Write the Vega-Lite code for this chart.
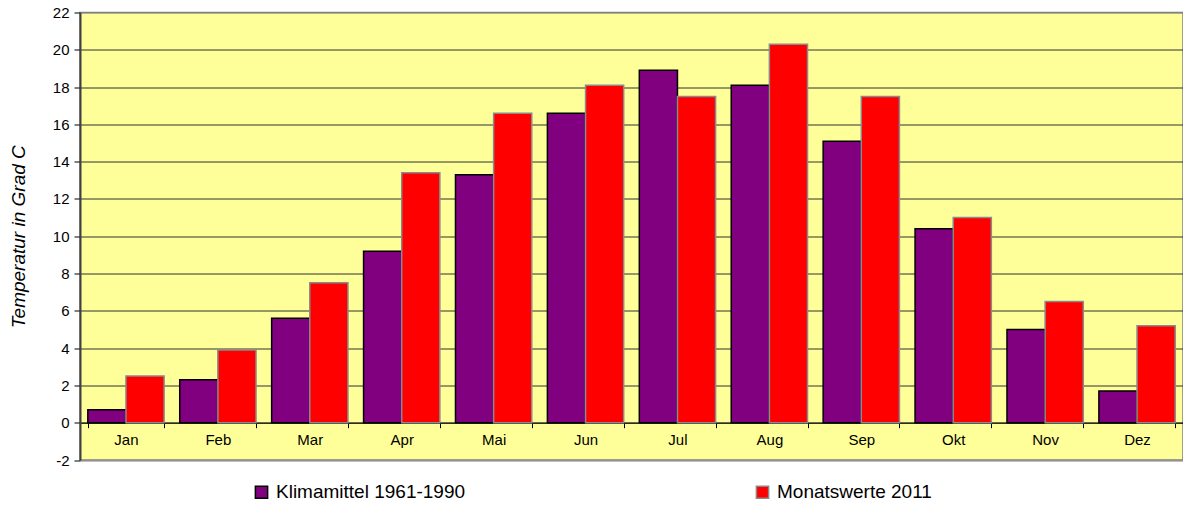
{
  "$schema": "https://vega.github.io/schema/vega-lite/v6.json",
  "autosize": "none",
  "width": 1103,
  "height": 447.5,
  "padding": {"left": 80, "top": 12.5, "right": 0, "bottom": 49},
  "background": "#ffffff",
  "config": {
    "font": "Liberation Sans",
    "view": {"fill": "#FFFF99", "stroke": "#808080", "strokeWidth": 1.5}
  },
  "data": {
    "values": [
      {"monat": "Jan", "serie": "Klimamittel 1961-1990", "temp": 0.7},
      {"monat": "Jan", "serie": "Monatswerte 2011", "temp": 2.5},
      {"monat": "Feb", "serie": "Klimamittel 1961-1990", "temp": 2.3},
      {"monat": "Feb", "serie": "Monatswerte 2011", "temp": 3.9},
      {"monat": "Mar", "serie": "Klimamittel 1961-1990", "temp": 5.6},
      {"monat": "Mar", "serie": "Monatswerte 2011", "temp": 7.5},
      {"monat": "Apr", "serie": "Klimamittel 1961-1990", "temp": 9.2},
      {"monat": "Apr", "serie": "Monatswerte 2011", "temp": 13.4},
      {"monat": "Mai", "serie": "Klimamittel 1961-1990", "temp": 13.3},
      {"monat": "Mai", "serie": "Monatswerte 2011", "temp": 16.6},
      {"monat": "Jun", "serie": "Klimamittel 1961-1990", "temp": 16.6},
      {"monat": "Jun", "serie": "Monatswerte 2011", "temp": 18.1},
      {"monat": "Jul", "serie": "Klimamittel 1961-1990", "temp": 18.9},
      {"monat": "Jul", "serie": "Monatswerte 2011", "temp": 17.5},
      {"monat": "Aug", "serie": "Klimamittel 1961-1990", "temp": 18.1},
      {"monat": "Aug", "serie": "Monatswerte 2011", "temp": 20.3},
      {"monat": "Sep", "serie": "Klimamittel 1961-1990", "temp": 15.1},
      {"monat": "Sep", "serie": "Monatswerte 2011", "temp": 17.5},
      {"monat": "Okt", "serie": "Klimamittel 1961-1990", "temp": 10.4},
      {"monat": "Okt", "serie": "Monatswerte 2011", "temp": 11.0},
      {"monat": "Nov", "serie": "Klimamittel 1961-1990", "temp": 5.0},
      {"monat": "Nov", "serie": "Monatswerte 2011", "temp": 6.5},
      {"monat": "Dez", "serie": "Klimamittel 1961-1990", "temp": 1.7},
      {"monat": "Dez", "serie": "Monatswerte 2011", "temp": 5.2}
    ]
  },
  "mark": {"type": "bar", "strokeWidth": 1.5},
  "encoding": {
    "x": {
      "field": "monat",
      "type": "nominal",
      "sort": null,
      "scale": {"paddingInner": 0.17, "paddingOuter": 0.085},
      "axis": {
        "title": null,
        "offset": -37.3,
        "domainColor": "#000000",
        "domainWidth": 1,
        "tickBand": "extent",
        "tickColor": "#000000",
        "tickSize": 5,
        "labelAngle": 0,
        "labelFontSize": 15,
        "labelColor": "#000000",
        "labelPadding": 5,
        "labelBaseline": "top"
      }
    },
    "xOffset": {
      "field": "serie",
      "type": "nominal",
      "scale": {"paddingInner": 0, "paddingOuter": 0}
    },
    "y": {
      "field": "temp",
      "type": "quantitative",
      "scale": {"domain": [-2, 22], "nice": false, "zero": false},
      "axis": {
        "title": "Temperatur in Grad C",
        "titleFontStyle": "italic",
        "titleFontWeight": "normal",
        "titleFontSize": 19,
        "titleColor": "#000000",
        "titleX": -62,
        "titleY": 223.75,
        "titleAngle": -90,
        "titleBaseline": "middle",
        "titleAlign": "center",
        "values": [-2, 0, 2, 4, 6, 8, 10, 12, 14, 16, 18, 20, 22],
        "labelExpr": "'' + datum.value",
        "labelFontSize": 15,
        "labelColor": "#000000",
        "labelPadding": 5,
        "tickSize": 6,
        "tickColor": "#000000",
        "domainColor": "#404040",
        "domainWidth": 2,
        "grid": true,
        "gridColor": {"condition": {"test": "datum.value == 22 || datum.value == -2", "value": "#808080"}, "value": "#303030"},
        "gridWidth": 1
      }
    },
    "color": {
      "field": "serie",
      "type": "nominal",
      "scale": {"domain": ["Klimamittel 1961-1990", "Monatswerte 2011"], "range": ["#800080", "#FF0000"]},
      "legend": {
        "title": null,
        "orient": "none",
        "direction": "horizontal",
        "columns": 2,
        "legendX": 172,
        "legendY": 470,
        "symbolType": "square",
        "symbolSize": 150,
        "symbolStrokeWidth": 1.5,
        "labelFontSize": 19,
        "labelColor": "#000000",
        "labelOffset": 5,
        "labelLimit": 500,
        "columnPadding": 287
      }
    },
    "stroke": {
      "field": "serie",
      "type": "nominal",
      "scale": {"domain": ["Klimamittel 1961-1990", "Monatswerte 2011"], "range": ["#000000", "#8a8a8a"]},
      "legend": {
        "title": null,
        "orient": "none",
        "direction": "horizontal",
        "columns": 2,
        "legendX": 172,
        "legendY": 470,
        "symbolType": "square",
        "symbolSize": 150,
        "symbolStrokeWidth": 1.5,
        "labelFontSize": 19,
        "labelColor": "#000000",
        "labelOffset": 5,
        "labelLimit": 500,
        "columnPadding": 287
      }
    }
  }
}
